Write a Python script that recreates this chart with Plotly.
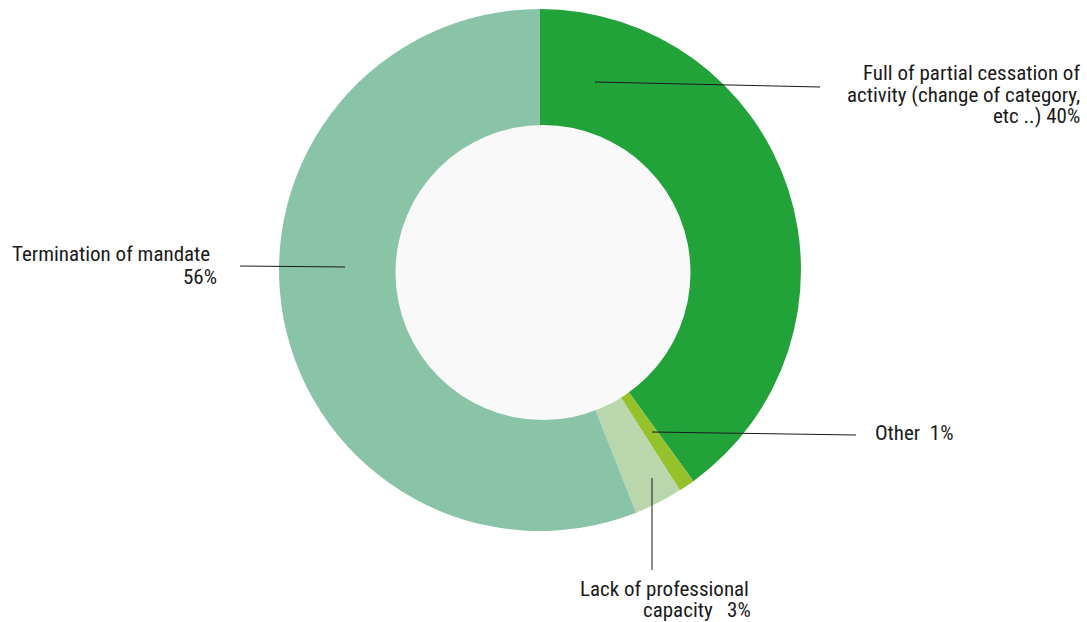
import plotly.graph_objects as go

W, H = 1087, 622

categories = ["Full of partial cessation of activity (change of category, etc ..)",
              "Other", "Lack of professional capacity", "Termination of mandate"]
shares = [40, 1, 3, 56]
colors = ["#22a33a", "#95c12b", "#bad6ac", "#89c3a8"]


def px(x):
    return x / W


def py(y):
    return 1 - y / H


# ring geometry in pixels; the grey centre disc sits slightly off-centre
cx, cy, r_out = 540, 270, 261
hx, hy, r_in = 543, 272.5, 147.5

fig = go.Figure()
fig.add_trace(go.Pie(
    labels=categories, values=shares, sort=False, direction="clockwise", rotation=0,
    hole=0.5, marker=dict(colors=colors, line=dict(width=0)),
    textinfo="none", hoverinfo="label+percent", showlegend=False,
    domain=dict(x=[px(cx - r_out), px(cx + r_out)], y=[py(cy + r_out), py(cy - r_out)]),
))

# light grey disc in the middle
fig.add_shape(type="circle", xref="paper", yref="paper", layer="above",
              x0=px(hx - r_in), x1=px(hx + r_in), y0=py(hy + r_in), y1=py(hy - r_in),
              fillcolor="#f9f9f9", line=dict(width=0))

# leader lines
leaders = [((595, 82), (820, 87)), ((240, 266), (345, 267)),
           ((652, 432), (856, 435)), ((652, 478), (652, 570))]
for (x0, y0), (x1, y1) in leaders:
    fig.add_shape(type="line", xref="paper", yref="paper",
                  x0=px(x0), y0=py(y0), x1=px(x1), y1=py(y1),
                  line=dict(color="#1a1a1a", width=1))

font = dict(family="Roboto Condensed, Liberation Sans Narrow, sans-serif", size=21, color="#1a1a1a")
# (text, x, y, anchor)
label_lines = [
    ("Full of partial cessation of", 1081, 73, "right"),
    ("activity (change of category,", 1081, 95, "right"),
    (f"etc ..) {shares[0]}%", 1081, 116, "right"),
    ("Termination of mandate", 11, 254, "left"),
    (f"{shares[3]}%", 218, 277, "right"),
    (f"Other&nbsp;&nbsp;{shares[1]}%", 874, 433, "left"),
    ("Lack of professional", 579, 589, "left"),
    (f"capacity&nbsp;&nbsp;&nbsp;{shares[2]}%", 752, 610, "right"),
]
for text, x, y, anchor in label_lines:
    fig.add_annotation(text=text, x=px(x), y=py(y), xref="paper", yref="paper",
                       xanchor=anchor, yanchor="middle", showarrow=False, font=font,
                       borderpad=0)

fig.update_layout(width=W, height=H, margin=dict(l=0, r=0, t=0, b=0),
                  paper_bgcolor="white", plot_bgcolor="white")

fig.write_html("out.html", config={"displayModeBar": False},
               post_script="document.body.style.margin='0';")
